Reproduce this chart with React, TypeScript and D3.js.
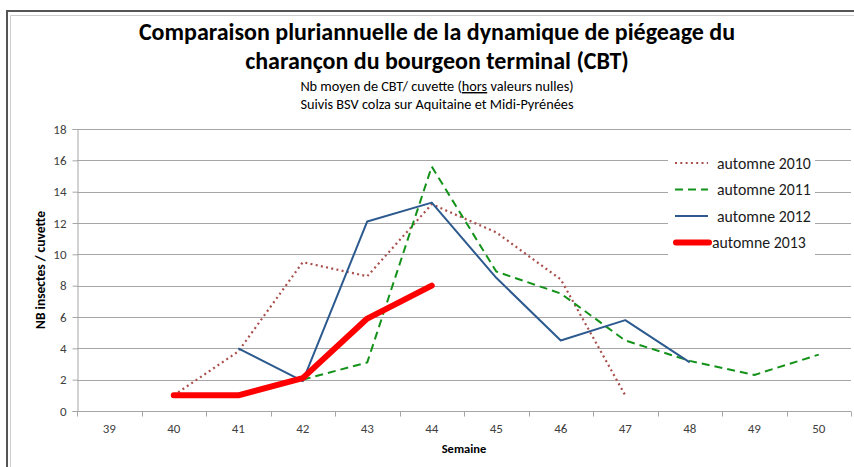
import { useEffect, useRef } from "react";
import * as d3 from "d3";

// weeks on the x axis
const weeks = ["39", "40", "41", "42", "43", "44", "45", "46", "47", "48", "49", "50"];

// mean number of CBT per trap, by week (null = no value)
const values2010 = [null, 1.0, 3.8, 9.5, 8.6, 13.2, 11.4, 8.4, 1.0, null, null, null];
const values2011 = [null, null, null, 2.0, 3.1, 15.6, 8.9, 7.5, 4.5, 3.2, 2.3, 3.6];
const values2012 = [null, null, 4.0, 1.9, 12.1, 13.3, 8.5, 4.5, 5.8, 3.1, null, null];
const values2013 = [null, 1.0, 1.0, 2.1, 5.9, 8.0, null, null, null, null, null, null];

const yTicks = [0, 2, 4, 6, 8, 10, 12, 14, 16, 18];

const seriesNames = ["automne 2010", "automne 2011", "automne 2012", "automne 2013"];

const App = () => {
  const ref = useRef<SVGSVGElement>(null);

  useEffect(() => {
    const width = 854;
    const height = 467;
    const margin = { top: 129, right: 3, bottom: 56, left: 77 };
    const innerW = width - margin.left - margin.right;
    const innerH = height - margin.top - margin.bottom;
    const font = "Carlito, 'Liberation Sans', Arial, sans-serif";

    const svg = d3.select(ref.current);
    svg.selectAll("*").remove();

    // outer frame
    svg.append("rect").attr("width", width).attr("height", height).attr("fill", "#fff");
    svg
      .append("path")
      .attr("d", `M7,${height} V11 H${width}`)
      .attr("fill", "none")
      .attr("stroke", "#555")
      .attr("stroke-width", 2);
    svg
      .append("path")
      .attr("d", `M10.5,${height} V15.5 H${width}`)
      .attr("fill", "none")
      .attr("stroke", "#ccc")
      .attr("stroke-width", 1);

    // titles
    const titleX = 437;
    svg
      .append("text")
      .attr("x", titleX)
      .attr("y", 40)
      .attr("text-anchor", "middle")
      .attr("font-family", font)
      .attr("font-weight", "bold")
      .attr("font-size", 24)
      .attr("fill", "#000")
      .text("Comparaison pluriannuelle de la dynamique de piégeage du");
    svg
      .append("text")
      .attr("x", titleX)
      .attr("y", 69)
      .attr("text-anchor", "middle")
      .attr("font-family", font)
      .attr("font-weight", "bold")
      .attr("font-size", 24)
      .attr("fill", "#000")
      .text("charançon du bourgeon terminal (CBT)");

    const sub1 = svg
      .append("text")
      .attr("x", titleX)
      .attr("y", 91)
      .attr("text-anchor", "middle")
      .attr("font-family", font)
      .attr("font-size", 14.3)
      .attr("fill", "#000");
    sub1.append("tspan").text("Nb moyen de CBT/ cuvette (");
    sub1.append("tspan").attr("text-decoration", "underline").text("hors");
    sub1.append("tspan").text(" valeurs nulles)");
    svg
      .append("text")
      .attr("x", titleX)
      .attr("y", 109)
      .attr("text-anchor", "middle")
      .attr("font-family", font)
      .attr("font-size", 14.3)
      .attr("fill", "#000")
      .text("Suivis BSV colza sur Aquitaine et Midi-Pyrénées");

    const g = svg.append("g").attr("transform", `translate(${margin.left},${margin.top})`);

    const x = d3.scaleBand<string>().domain(weeks).range([0, innerW]);
    const y = d3.scaleLinear().domain([0, 18]).range([innerH, 0]);

    // gridlines
    g.selectAll(".grid")
      .data(yTicks.filter((t) => t > 0))
      .enter()
      .append("line")
      .attr("x1", 0)
      .attr("x2", innerW)
      .attr("y1", (d) => Math.round(y(d)) + 0.5)
      .attr("y2", (d) => Math.round(y(d)) + 0.5)
      .attr("stroke", "#a6a6a6")
      .attr("stroke-width", 1);

    // y axis
    const yAxis = g
      .append("g")
      .attr("transform", "translate(0.5,0)")
      .call(d3.axisLeft(y).tickValues(yTicks).tickSize(5).tickPadding(6));
    yAxis.selectAll("line").attr("stroke", "#a6a6a6");
    yAxis.select(".domain").attr("stroke", "#a6a6a6");
    yAxis
      .selectAll("text")
      .attr("font-family", font)
      .attr("font-size", 13)
      .attr("fill", "#404040");

    // x axis with ticks on category boundaries
    const xAxis = g.append("g").attr("transform", `translate(0,${Math.round(innerH) + 0.5})`);
    xAxis
      .append("line")
      .attr("x1", 0)
      .attr("x2", innerW)
      .attr("stroke", "#a6a6a6");
    xAxis
      .selectAll(".tk")
      .data(d3.range(weeks.length + 1))
      .enter()
      .append("line")
      .attr("x1", (i) => Math.round(i * x.step()) + 0.5)
      .attr("x2", (i) => Math.round(i * x.step()) + 0.5)
      .attr("y1", 0)
      .attr("y2", 5)
      .attr("stroke", "#a6a6a6");
    xAxis
      .selectAll(".lbl")
      .data(weeks)
      .enter()
      .append("text")
      .attr("x", (d) => (x(d) as number) + x.bandwidth() / 2)
      .attr("y", 21.5)
      .attr("text-anchor", "middle")
      .attr("font-family", font)
      .attr("font-size", 13)
      .attr("fill", "#404040")
      .text((d) => d);

    // axis titles
    g.append("text")
      .attr("x", innerW / 2)
      .attr("y", innerH + 41.5)
      .attr("text-anchor", "middle")
      .attr("font-family", font)
      .attr("font-weight", "bold")
      .attr("font-size", 12.5)
      .attr("fill", "#000")
      .text("Semaine");
    g.append("text")
      .attr("transform", "rotate(-90)")
      .attr("x", -141)
      .attr("y", -32)
      .attr("text-anchor", "middle")
      .attr("font-family", font)
      .attr("font-weight", "bold")
      .attr("font-size", 13.5)
      .attr("fill", "#000")
      .text("NB insectes / cuvette");

    // series
    const series = [
      { name: seriesNames[0], values: values2010, color: "#a9504d", width: 2.2, dash: "2,3.3", cap: "butt" },
      { name: seriesNames[1], values: values2011, color: "#13921a", width: 2, dash: "8,5", cap: "butt" },
      { name: seriesNames[2], values: values2012, color: "#2c5a8e", width: 2, dash: "none", cap: "butt" },
      { name: seriesNames[3], values: values2013, color: "#ff0000", width: 6, dash: "none", cap: "round" },
    ];

    series.forEach((s) => {
      const pts = weeks
        .map((w, i) => ({ w, v: s.values[i] }))
        .filter((p) => p.v !== null) as { w: string; v: number }[];
      const line = d3
        .line<{ w: string; v: number }>()
        .x((p) => (x(p.w) as number) + x.bandwidth() / 2)
        .y((p) => y(p.v));
      g.append("path")
        .datum(pts)
        .attr("d", line)
        .attr("fill", "none")
        .attr("stroke", s.color)
        .attr("stroke-width", s.width)
        .attr("stroke-dasharray", s.dash)
        .attr("stroke-linecap", s.cap)
        .attr("stroke-linejoin", "round");
    });

    // legend
    const legend = svg.append("g");
    legend
      .append("rect")
      .attr("x", 668)
      .attr("y", 148)
      .attr("width", 147)
      .attr("height", 109)
      .attr("fill", "#fff");
    series.forEach((s, i) => {
      const ly = 163 + i * 26.5;
      const last = i === 3;
      legend
        .append("line")
        .attr("x1", last ? 676 : 675)
        .attr("x2", last ? 709 : 708)
        .attr("y1", ly)
        .attr("y2", ly)
        .attr("stroke", s.color)
        .attr("stroke-width", s.width)
        .attr("stroke-dasharray", s.dash)
        .attr("stroke-linecap", s.cap);
      legend
        .append("text")
        .attr("x", last ? 712 : 717)
        .attr("y", ly)
        .attr("dy", "0.35em")
        .attr("font-family", font)
        .attr("font-size", 15.8)
        .attr("fill", "#1a1a1a")
        .text(s.name);
    });
  }, []);

  return (
    <svg
      ref={ref}
      width={854}
      height={467}
      style={{ position: "absolute", left: 0, top: 0, display: "block" }}
    />
  );
};

export default App;
